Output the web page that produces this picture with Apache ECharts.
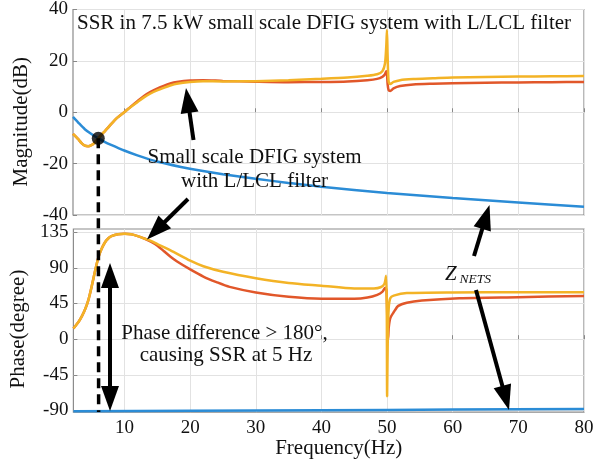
<!DOCTYPE html>
<html>
<head>
<meta charset="utf-8">
<script src="https://cdn.jsdelivr.net/npm/echarts@6/dist/echarts.min.js"></script>
<style>
  html, body { margin: 0; padding: 0; background: #fff; }
  #chart { width: 605px; height: 460px; }
</style>
</head>
<body>
<div id="chart"></div>
<script>
// ---- Bode data: small scale DFIG system (L / LCL filter) vs grid impedance Z_NETS ----
const FONT = '"Liberation Serif", "Times New Roman", serif';

// Frequency ticks (Hz)
const freqTicks = [10, 20, 30, 40, 50, 60, 70, 80];
const magTicks = [-40, -20, 0, 20, 40];
const phaseTicks = [-90, -45, 0, 45, 90, 135];

// Magnitude, DFIG with LCL filter (yellow)
const magFreqLCL = [2.2, 3, 3.5, 4, 4.5, 5, 5.5, 6, 6.5, 7, 7.5, 8, 9, 10, 11, 12, 13, 14, 15, 16, 17, 18, 20, 22, 25, 30, 35, 40, 44, 47, 48.5, 49.3, 49.7, 49.9, 50.0, 50.1, 50.25, 50.5, 51, 52, 54, 57, 60, 65, 70, 75, 80];
const magLCL = [-8.4, -10.5, -12.0, -13.0, -13.2, -12.8, -11.8, -10.3, -8.8, -7.5, -6.1, -4.6, -2.0, 0.0, 2.0, 3.9, 5.8, 7.3, 8.5, 9.5, 10.4, 11.1, 11.8, 12.1, 12.0, 12.1, 12.5, 13.0, 13.5, 14.2, 14.8, 16.0, 19.0, 26.0, 32.0, 22.0, 12.0, 11.0, 11.8, 12.5, 12.9, 13.2, 13.5, 13.7, 13.9, 14.0, 14.1];

// Magnitude, DFIG with L filter (red)
const magFreqL = [2.2, 3, 3.5, 4, 4.5, 5, 5.5, 6, 6.5, 7, 7.5, 8, 9, 10, 11, 12, 13, 14, 15, 16, 17, 18, 20, 22, 25, 30, 35, 40, 44, 47, 48.5, 49.3, 49.7, 49.9, 50.0, 50.1, 50.25, 50.5, 51, 52, 54, 57, 60, 65, 70, 75, 80];
const magL = [-8.4, -10.5, -12.0, -13.0, -13.2, -12.8, -11.8, -10.3, -8.8, -7.5, -6.1, -4.6, -2.0, 0.0, 2.2, 4.3, 6.3, 7.9, 9.2, 10.3, 11.2, 11.8, 12.4, 12.5, 12.2, 11.9, 11.7, 11.8, 12.0, 12.5, 13.0, 13.8, 14.8, 16.0, 15.0, 11.0, 8.6, 8.3, 9.3, 10.2, 10.8, 11.1, 11.3, 11.5, 11.6, 11.7, 11.8];

// Magnitude, grid impedance Z_NETS (blue)
const magFreqNet = [2.2, 3, 4, 5, 6, 7, 8, 10, 12, 15, 20, 25, 30, 35, 40, 50, 60, 70, 80];
const magNet = [-1.8, -4.0, -6.6, -8.5, -10.1, -11.5, -12.7, -14.9, -16.8, -19.2, -22.0, -24.1, -25.9, -27.5, -29.0, -31.4, -33.4, -35.1, -36.8];

// Phase, DFIG with LCL filter (yellow)
const phFreqLCL = [2.2, 3, 3.5, 4, 4.5, 5, 5.5, 6, 6.5, 7, 7.5, 8, 9, 10, 11, 12, 13, 14, 15, 17, 20, 22, 25, 30, 35, 40, 45, 48, 49, 49.6, 49.85, 49.95, 50.0, 50.1, 50.25, 50.5, 51, 53, 60, 70, 80];
const phLCL = [13.4, 22, 29, 38, 50, 67, 86, 103, 114, 122, 127, 130, 132.5, 133, 132.3, 130, 127, 124, 120, 112, 99, 92, 85, 77, 71, 67.5, 64, 64, 65.5, 70, 80, 40, -72, 0, 40, 52, 55, 58.2, 59, 59.1, 59.2];

// Phase, DFIG with L filter (red)
const phFreqL = [2.2, 3, 3.5, 4, 4.5, 5, 5.5, 6, 6.5, 7, 7.5, 8, 9, 10, 11, 12, 13, 14, 15, 16, 17, 18, 20, 22, 24, 26, 30, 35, 40, 45, 47, 48.5, 49.3, 49.7, 49.9, 50.05, 50.15, 50.25, 50.5, 51, 51.7, 53, 55.3, 61, 70, 80];
const phL = [13.4, 22, 29, 38, 50, 67, 86, 103, 114, 122, 127, 130, 132.5, 133, 132.3, 130, 127, 123, 118, 111, 104, 98, 88, 79, 72, 66, 59, 53.5, 51, 51, 52.5, 56, 60, 65, 62, 20, 0, 15, 27, 34, 42, 46, 48.8, 51.7, 53, 54.5];

// Phase, grid impedance Z_NETS (blue)
const phFreqNet = [2.2, 20, 40, 60, 80];
const phNet = [-90.8, -90.3, -89.6, -88.8, -88.0];

const COLOR_L = '#e1572a';
const COLOR_LCL = '#f3b326';
const COLOR_NET = '#2b8cd6';

const pairs = (xs, ys) => xs.map((x, i) => [x, ys[i]]);

// Piecewise-linear lookup used to locate where the DFIG and grid magnitudes cross
function interp(xs, ys, x) {
  for (let i = 0; i < xs.length - 1; i++) {
    if (x >= xs[i] && x <= xs[i + 1]) {
      const t = (x - xs[i]) / (xs[i + 1] - xs[i]);
      return ys[i] + t * (ys[i + 1] - ys[i]);
    }
  }
  return ys[ys.length - 1];
}
function findCrossing(lo, hi) {
  let prev = null;
  for (let f = lo; f <= hi; f += 0.005) {
    const d = interp(magFreqLCL, magLCL, f) - interp(magFreqNet, magNet, f);
    if (prev !== null && Math.sign(d) !== Math.sign(prev.d)) {
      const t = prev.d / (prev.d - d);
      const fx = prev.f + t * (f - prev.f);
      return [fx, interp(magFreqNet, magNet, fx)];
    }
    prev = { f, d };
  }
  return null;
}
const crossing = findCrossing(5, 9);

const axisLabelStyle = { fontFamily: FONT, fontSize: 19, color: '#111' };
const splitLineStyle = { show: true, lineStyle: { color: '#e2e2e2', width: 1 } };

function xAxisFor(gridIndex, withLabels) {
  return {
    type: 'value', gridIndex, min: 2.2, max: 80,
    axisLine: { show: false },
    axisTick: { show: true, inside: true, length: 4, customValues: freqTicks, lineStyle: { color: '#888' } },
    axisLabel: withLabels
      ? Object.assign({ show: true, margin: 6, customValues: freqTicks }, axisLabelStyle)
      : { show: false, customValues: freqTicks },
    splitLine: splitLineStyle,
    name: withLabels ? 'Frequency(Hz)' : '',
    nameLocation: 'middle', nameGap: 22,
    nameTextStyle: { fontFamily: FONT, fontSize: 21, color: '#111', padding: [0, 0, 0, 20] }
  };
}

function curve(name, gridIdx, xs, ys, color, z) {
  return {
    name, type: 'line', xAxisIndex: gridIdx, yAxisIndex: gridIdx,
    data: pairs(xs, ys), showSymbol: false, smooth: 0.25,
    lineStyle: { color, width: 2.5 }, z
  };
}

const chart = echarts.init(document.getElementById('chart'), null, { renderer: 'canvas' });

const option = {
  animation: false,
  backgroundColor: '#fff',
  grid: [
    { left: 73, right: 21, top: 8, height: 207, show: true, borderColor: '#8c8c8c', borderWidth: 1.2, backgroundColor: 'transparent' },
    { left: 73, right: 21, top: 229, height: 185, show: true, borderColor: '#8c8c8c', borderWidth: 1.2, backgroundColor: 'transparent' }
  ],
  xAxis: [xAxisFor(0, false), xAxisFor(1, true)],
  yAxis: [
    {
      type: 'value', gridIndex: 0, min: -40, max: 40, interval: 20,
      axisLine: { show: false },
      axisTick: { show: true, inside: true, length: 4, lineStyle: { color: '#888' } },
      axisLabel: Object.assign({ margin: 5 }, axisLabelStyle),
      splitLine: splitLineStyle,
      name: 'Magnitude(dB)', nameLocation: 'middle', nameGap: 40,
      nameTextStyle: { fontFamily: FONT, fontSize: 21, color: '#111', padding: [0, 19, 0, 0] }
    },
    {
      type: 'value', gridIndex: 1, min: -92, max: 139,
      axisLine: { show: false },
      axisTick: { show: true, inside: true, length: 4, customValues: phaseTicks, lineStyle: { color: '#888' } },
      axisLabel: Object.assign({ margin: 5, customValues: phaseTicks }, axisLabelStyle),
      splitLine: splitLineStyle,
      name: 'Phase(degree)', nameLocation: 'middle', nameGap: 40,
      nameTextStyle: { fontFamily: FONT, fontSize: 21, color: '#111', padding: [0, 17, 0, 0] }
    }
  ],
  series: [
    curve('L filter |Z|', 0, magFreqL, magL, COLOR_L, 2),
    curve('LCL filter |Z|', 0, magFreqLCL, magLCL, COLOR_LCL, 3),
    curve('Z_NETS |Z|', 0, magFreqNet, magNet, COLOR_NET, 2),
    curve('L filter phase', 1, phFreqL, phL, COLOR_L, 2),
    curve('LCL filter phase', 1, phFreqLCL, phLCL, COLOR_LCL, 3),
    curve('Z_NETS phase', 1, phFreqNet, phNet, COLOR_NET, 2),
    { name: 'Intersection', type: 'scatter', xAxisIndex: 0, yAxisIndex: 0, data: crossing ? [crossing] : [], symbol: 'circle', symbolSize: 13, itemStyle: { color: '#000' }, z: 10 }
  ]
};
chart.setOption(option);

// ---- Annotations: arrows, labels, dashed marker at the intersection ----
function arrow(x1, y1, x2, y2, headLen = 25, headW = 18, lw = 4) {
  const dx = x2 - x1, dy = y2 - y1, L = Math.hypot(dx, dy);
  const ux = dx / L, uy = dy / L, px = -uy, py = ux;
  const bx = x2 - ux * headLen, by = y2 - uy * headLen;
  return [
    { type: 'line', shape: { x1, y1, x2: bx + ux * 3, y2: by + uy * 3 }, style: { stroke: '#000', lineWidth: lw }, z: 20 },
    { type: 'polygon', shape: { points: [[x2, y2], [bx + px * headW / 2, by + py * headW / 2], [bx - px * headW / 2, by - py * headW / 2]] }, style: { fill: '#000' }, z: 20 }
  ];
}
function label(text, x, y, size = 21, extra = {}) {
  return {
    type: 'text', z: 20,
    style: Object.assign({
      text, x, y, fill: '#111', font: `${size}px ${FONT}`,
      textAlign: 'center', align: 'center', textVerticalAlign: 'middle', verticalAlign: 'middle'
    }, extra)
  };
}

const graphics = [];
graphics.push(label('SSR in 7.5 kW small scale DFIG system with L/LCL filter', 77, 23.5, 21, { textAlign: 'left', align: 'left' }));
graphics.push(label('Small scale DFIG system', 254.5, 157));
graphics.push(label('with L/LCL filter', 254.5, 181.5));
graphics.push(label('Phase difference > 180\u00b0,', 224.5, 333));
graphics.push(label('causing SSR at 5 Hz', 226, 355));
graphics.push(label('Z', 445, 274, 21, { textAlign: 'left', align: 'left', font: `italic 21px ${FONT}` }));
graphics.push(label('NETS', 459.5, 279.5, 13.5, { textAlign: 'left', align: 'left', font: `italic 13.5px ${FONT}` }));

graphics.push(...arrow(193.5, 140, 186, 88));
graphics.push(...arrow(188, 199, 147, 239.5));
graphics.push(...arrow(474, 256, 489.5, 205));
graphics.push(...arrow(476, 290, 509, 410));
graphics.push(...arrow(110, 337, 110, 263));
graphics.push(...arrow(110, 337, 110, 411));

if (crossing) {
  const top = chart.convertToPixel({ gridIndex: 0 }, crossing);
  const bottom = chart.convertToPixel({ gridIndex: 1 }, [crossing[0], -92]);
  graphics.push({
    type: 'line', z: 15,
    shape: { x1: top[0], y1: top[1], x2: bottom[0], y2: bottom[1] },
    style: { stroke: '#000', lineWidth: 3.5, lineDash: [10, 6] }
  });
}

chart.setOption({ graphic: { elements: graphics } });
</script>
</body>
</html>
